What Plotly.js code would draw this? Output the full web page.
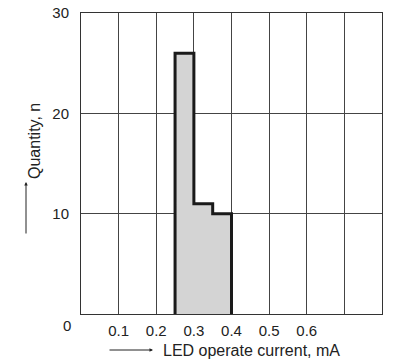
<!DOCTYPE html>
<html><head><meta charset="utf-8">
<script src="https://cdn.plot.ly/plotly-3.0.1.min.js"></script>
<style>html,body{margin:0;padding:0;background:#fff}#c{width:420px;height:362px}</style>
</head><body><div id="c"></div>
<script>
const binEdges = [0.25, 0.30, 0.35, 0.40];
const counts = [26, 11, 10];
const xTickVals = [0.1, 0.2, 0.3, 0.4, 0.5, 0.6, 0.7];
const xTickText = ['0.1', '0.2', '0.3', '0.4', '0.5', '0.6', ''];
const yTickVals = [10, 20, 30];
const yTickText = ['10', '20', '30'];

// step outline from bins
const px = [binEdges[0]], py = [0];
for (let i = 0; i < counts.length; i++) {
  px.push(binEdges[i]); py.push(counts[i]);
  px.push(binEdges[i + 1]); py.push(counts[i]);
}
px.push(binEdges[binEdges.length - 1]); py.push(0);

const font = {family: 'Liberation Sans, Arial, sans-serif', size: 15, color: '#222'};
const tfont = {family: 'Liberation Sans, Arial, sans-serif', size: 16, color: '#222'};

Plotly.newPlot('c', [{
  x: px, y: py, type: 'scatter', mode: 'lines',
  fill: 'toself', fillcolor: '#d4d4d4',
  line: {color: '#1a1a1a', width: 3}, hoverinfo: 'skip'
}], {
  width: 420, height: 362,
  margin: {l: 81, r: 38, t: 13, b: 48},
  paper_bgcolor: '#fff', plot_bgcolor: '#fff',
  showlegend: false, font: font,
  xaxis: {range: [0, 0.8], tickvals: xTickVals, ticktext: xTickText,
    showgrid: true, gridcolor: '#444', gridwidth: 1, zeroline: false,
    showline: true, mirror: true, linecolor: '#333', linewidth: 1,
    ticks: '', ticklabelstandoff: 3, tickfont: font, fixedrange: true},
  yaxis: {range: [0, 30], tickvals: yTickVals, ticktext: yTickText,
    showgrid: true, gridcolor: '#444', gridwidth: 1, zeroline: false,
    showline: true, mirror: true, linecolor: '#333', linewidth: 1,
    ticks: '', ticklabelstandoff: 8, tickfont: font, fixedrange: true},
  annotations: [
    {text: '0', xref: 'paper', yref: 'paper', x: 0, y: 0, xanchor: 'right', yanchor: 'top',
     xshift: -8, yshift: -1, showarrow: false, font: font},
    {text: 'Quantity, n', xref: 'paper', yref: 'paper', x: 0, y: 0.5,
     xshift: -57, yshift: 22, textangle: -90, showarrow: false, font: tfont},
    {text: '', xref: 'paper', yref: 'paper', x: 0, y: 0.5, xshift: -55, yshift: -18.5,
     ax: 0, ay: 53, showarrow: true, arrowhead: 2, arrowsize: 0.7, arrowwidth: 1, arrowcolor: '#222'},
    {text: 'LED operate current, mA', xref: 'paper', yref: 'paper', x: 0, y: 0,
     xanchor: 'left', yanchor: 'middle', xshift: 80, yshift: -36, showarrow: false, font: tfont},
    {text: '', xref: 'paper', yref: 'paper', x: 0, y: 0, xshift: 72, yshift: -36,
     ax: -45, ay: 0, showarrow: true, arrowhead: 2, arrowsize: 0.7, arrowwidth: 1, arrowcolor: '#222'}
  ]
}, {staticPlot: true});
</script></body></html>
